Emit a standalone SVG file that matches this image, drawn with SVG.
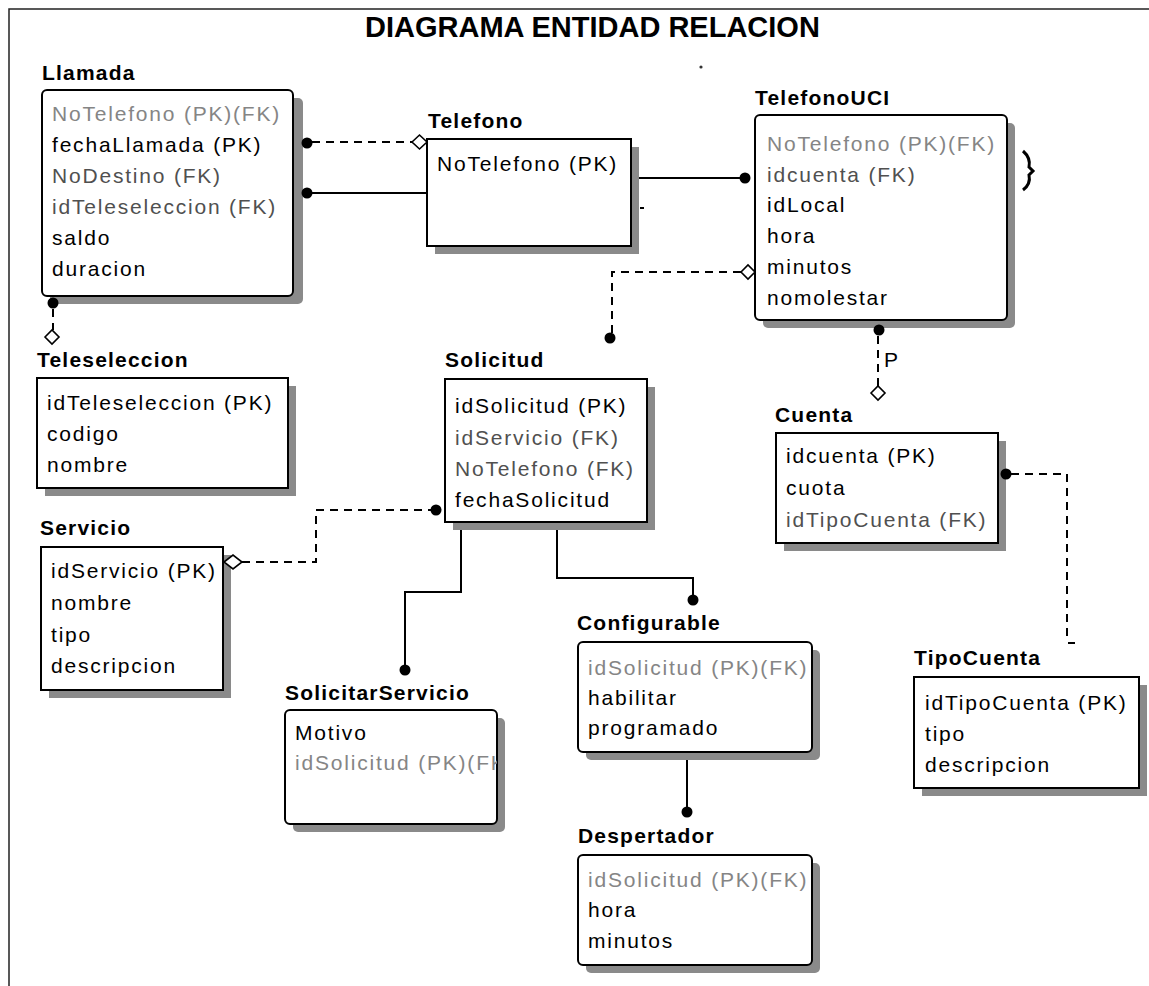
<svg xmlns="http://www.w3.org/2000/svg" width="1149" height="986" viewBox="0 0 1149 986">
<style>
.bg{fill:#fff}
.frame{stroke:#222;stroke-width:1.5;fill:none}
.box{fill:#fff;stroke:#000;stroke-width:2}
.shadow{fill:#8a8a8a}
.title{font-family:"Liberation Sans",Arial,sans-serif;font-weight:bold;font-size:29px;fill:#000}
.hdr{font-family:"Liberation Sans",Arial,sans-serif;font-weight:bold;font-size:21px;letter-spacing:1.2px;fill:#000}
.att{font-family:"Liberation Sans",Arial,sans-serif;font-size:21px;letter-spacing:1.8px;fill:#000}
.fk{fill:#505050}
.pkfk{fill:#858585}
.solid{stroke:#000;stroke-width:2;fill:none}
.dash{stroke:#000;stroke-width:2;stroke-dasharray:8 6;fill:none}
.dot{fill:#000}
.dia{fill:#fff;stroke:#000;stroke-width:1.6}
</style>
<defs>
<clipPath id="clipSS"><rect x="286" y="711" width="211" height="113"/></clipPath>
</defs>
<rect class="bg" x="0" y="0" width="1149" height="986"/>
<path class="frame" d="M9 986 V9 H1149"/>
<text class="title" x="365" y="37">DIAGRAMA ENTIDAD RELACION</text>
<circle cx="701" cy="67" r="1.6" fill="#333"/>

<g id="connectors">
  <path class="dash" d="M312 142 H412"/>
  <path class="solid" d="M312 193 H427"/>
  <path class="solid" d="M639 178 H740"/>
  <path class="solid" d="M640 208 H644" stroke-width="1.5"/>
  <path class="dash" d="M741 272 H612 V333"/>
  <path class="dash" d="M878 336 V386"/>
  <path class="dash" d="M53 309 V330"/>
  <path class="dash" d="M242 562 H316 V510 H431"/>
  <path class="dash" d="M1011 474 H1067 V637"/>
  <path class="solid" d="M1068 643 H1075"/>
  <path class="solid" d="M461 530 V592 H405 V665"/>
  <path class="solid" d="M557 530 V578 H693 V595"/>
  <path class="solid" d="M687 760 V807"/>
  <path d="M1023 151 Q1031 158 1029 167 L1033 171 L1029 175 Q1031 184 1023 190" fill="none" stroke="#000" stroke-width="3"/>
</g>

<g id="Llamada">
  <text class="hdr" x="42" y="80">Llamada</text>
  <rect class="shadow" x="50" y="98" width="253" height="206" rx="5"/>
  <rect class="box" x="42" y="90" width="251" height="206" rx="5"/>
  <text class="att pkfk" x="52" y="121">NoTelefono (PK)(FK)</text>
  <text class="att" x="52" y="152">fechaLlamada (PK)</text>
  <text class="att fk" x="52" y="183">NoDestino (FK)</text>
  <text class="att fk" x="52" y="214">idTeleseleccion (FK)</text>
  <text class="att" x="52" y="245">saldo</text>
  <text class="att" x="52" y="276">duracion</text>
  <circle class="dot" cx="307" cy="143" r="5.5"/>
  <circle class="dot" cx="307" cy="193" r="5.5"/>
  <circle class="dot" cx="53" cy="303" r="5.5"/>
</g>

<g id="Telefono">
  <text class="hdr" x="428" y="128">Telefono</text>
  <rect class="shadow" x="435" y="147" width="204" height="107"/>
  <rect class="box" x="427" y="139" width="204" height="107"/>
  <text class="att" x="437" y="171">NoTelefono (PK)</text>
  <polygon class="dia" points="412,142 419.5,135 427,142 419.5,149"/>
</g>

<g id="TelefonoUCI">
  <text class="hdr" x="755" y="105">TelefonoUCI</text>
  <rect class="shadow" x="763" y="123" width="252" height="205" rx="5"/>
  <rect class="box" x="755" y="115" width="252" height="205" rx="5"/>
  <text class="att pkfk" x="767" y="151">NoTelefono (PK)(FK)</text>
  <text class="att fk" x="767" y="182">idcuenta (FK)</text>
  <text class="att" x="767" y="212">idLocal</text>
  <text class="att" x="767" y="243">hora</text>
  <text class="att" x="767" y="274">minutos</text>
  <text class="att" x="767" y="305">nomolestar</text>
  <circle class="dot" cx="745" cy="178" r="5.5"/>
  <polygon class="dia" points="741,272 748,265 755,272 748,279"/>
  <circle class="dot" cx="879" cy="330" r="5.5"/>
  <text class="att" x="884" y="367">P</text>
</g>

<g id="Teleseleccion">
  <text class="hdr" x="37" y="367">Teleseleccion</text>
  <polygon class="dia" points="45,337 52,330 59,337 52,344"/>
  <rect class="shadow" x="45" y="386" width="251" height="110"/>
  <rect class="box" x="37" y="378" width="251" height="110"/>
  <text class="att" x="47" y="410">idTeleseleccion (PK)</text>
  <text class="att" x="47" y="441">codigo</text>
  <text class="att" x="47" y="472">nombre</text>
</g>

<g id="Servicio">
  <text class="hdr" x="40" y="535">Servicio</text>
  <rect class="shadow" x="49" y="555" width="182" height="143"/>
  <rect class="box" x="41" y="547" width="182" height="143"/>
  <text class="att" x="51" y="578">idServicio (PK)</text>
  <text class="att" x="51" y="610">nombre</text>
  <text class="att" x="51" y="642">tipo</text>
  <text class="att" x="51" y="673">descripcion</text>
  <polygon class="dia" points="224,562 233,555 242,562 233,569"/>
</g>

<g id="Solicitud">
  <circle class="dot" cx="610" cy="338" r="5.5"/>
  <text class="hdr" x="445" y="367">Solicitud</text>
  <rect class="shadow" x="453" y="387" width="202" height="143"/>
  <rect class="box" x="445" y="379" width="202" height="143"/>
  <text class="att" x="455" y="413">idSolicitud (PK)</text>
  <text class="att fk" x="455" y="445">idServicio (FK)</text>
  <text class="att fk" x="455" y="476">NoTelefono (FK)</text>
  <text class="att" x="455" y="507">fechaSolicitud</text>
  <circle class="dot" cx="436" cy="510" r="5.5"/>
</g>

<g id="Cuenta">
  <polygon class="dia" points="871,393 878,386 885,393 878,400"/>
  <text class="hdr" x="775" y="422">Cuenta</text>
  <rect class="shadow" x="784" y="441" width="222" height="110"/>
  <rect class="box" x="776" y="433" width="222" height="110"/>
  <text class="att" x="786" y="463">idcuenta (PK)</text>
  <text class="att" x="786" y="495">cuota</text>
  <text class="att fk" x="786" y="527">idTipoCuenta (FK)</text>
  <circle class="dot" cx="1006" cy="474" r="5.5"/>
</g>

<g id="TipoCuenta">
  <text class="hdr" x="914" y="665">TipoCuenta</text>
  <rect class="shadow" x="922" y="685" width="225" height="111"/>
  <rect class="box" x="914" y="677" width="225" height="111"/>
  <text class="att" x="925" y="710">idTipoCuenta (PK)</text>
  <text class="att" x="925" y="741">tipo</text>
  <text class="att" x="925" y="772">descripcion</text>
</g>

<g id="SolicitarServicio">
  <circle class="dot" cx="405" cy="670" r="5.5"/>
  <text class="hdr" x="285" y="700">SolicitarServicio</text>
  <rect class="shadow" x="293" y="718" width="212" height="114" rx="5"/>
  <rect class="box" x="285" y="710" width="212" height="114" rx="5"/>
  <g clip-path="url(#clipSS)">
    <text class="att" x="295" y="740">Motivo</text>
    <text class="att pkfk" x="295" y="770">idSolicitud (PK)(FK)</text>
  </g>
</g>

<g id="Configurable">
  <circle class="dot" cx="693" cy="600" r="5.5"/>
  <text class="hdr" x="577" y="630">Configurable</text>
  <rect class="shadow" x="586" y="650" width="234" height="110" rx="5"/>
  <rect class="box" x="578" y="642" width="234" height="110" rx="5"/>
  <text class="att pkfk" x="588" y="675">idSolicitud (PK)(FK)</text>
  <text class="att" x="588" y="705">habilitar</text>
  <text class="att" x="588" y="735">programado</text>
</g>

<g id="Despertador">
  <circle class="dot" cx="687" cy="812" r="5.5"/>
  <text class="hdr" x="578" y="843">Despertador</text>
  <rect class="shadow" x="586" y="863" width="234" height="110" rx="5"/>
  <rect class="box" x="578" y="855" width="234" height="110" rx="5"/>
  <text class="att pkfk" x="588" y="887">idSolicitud (PK)(FK)</text>
  <text class="att" x="588" y="917">hora</text>
  <text class="att" x="588" y="948">minutos</text>
</g>
</svg>
